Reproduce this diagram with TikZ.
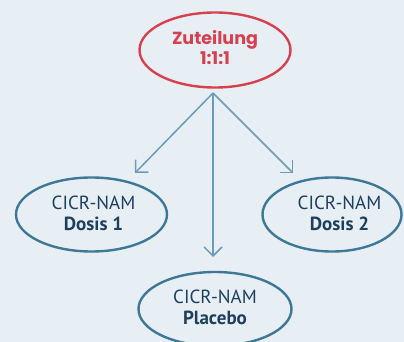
\documentclass[tikz,border=0pt]{standalone}
\usepackage{fontspec}
\setmainfont{PT Sans}
\newfontfamily\topfont{Poppins}
\usetikzlibrary{shapes.geometric,arrows.meta}
\definecolor{bgc}{HTML}{E7EFF5}
\definecolor{redc}{HTML}{D7414F}
\definecolor{ellc}{HTML}{3F7896}
\definecolor{arrc}{HTML}{6A9BB7}
\definecolor{txtc}{HTML}{1E3F5E}
\tikzset{
  topell/.style={ellipse, draw=redc, line width=2.4pt, minimum width=151pt, minimum height=75pt, inner sep=0pt},
  armell/.style={ellipse, draw=ellc, line width=2.4pt, minimum width=151pt, minimum height=74pt, inner sep=0pt},
  armtxt/.style={text=txtc, font=\fontsize{19}{21}\selectfont, align=center},
  toptxt/.style={text=redc, font=\topfont\bfseries\fontsize{17.5}{20}\selectfont, align=center},
  conn/.style={draw=arrc, line width=1.5pt, -{Straight Barb[length=9pt,width=18pt,line width=1.5pt]}}
}
\begin{document}
\begin{tikzpicture}[x=1pt,y=-1pt]
\fill[bgc] (0,0) rectangle (404,342);
\useasboundingbox (0,0) rectangle (404,342);
\clip (0,0) rectangle (404,342);
\node[topell] (top) at (215,50) {};
\node[toptxt] (toptext) at (215,47.5) {Zuteilung\\1:1:1};
\node[armell] (d1) at (91.5,214.5) {};
\node[armtxt] (d1t) at (93.5,213) {CICR-NAM\\\textbf{Dosis 1}};
\node[armell, minimum width=139pt] (d2) at (332,214.5) {};
\node[armtxt] (d2t) at (339.5,213) {CICR-NAM\\\textbf{Dosis 2}};
\node[armell, minimum width=153pt] (pl) at (215,309) {};
\node[armtxt] (plt) at (215,307) {CICR-NAM\\\textbf{Placebo}};
\coordinate (o) at (213,93);
\coordinate (ptip) at (213,257);
\coordinate (ltip) at (135,173);
\coordinate (rtip) at (293,173);
\draw[conn] (o) -- (ltip);
\draw[conn] (o) -- (rtip);
\draw[conn] (o) -- (ptip);
\end{tikzpicture}
\end{document}
